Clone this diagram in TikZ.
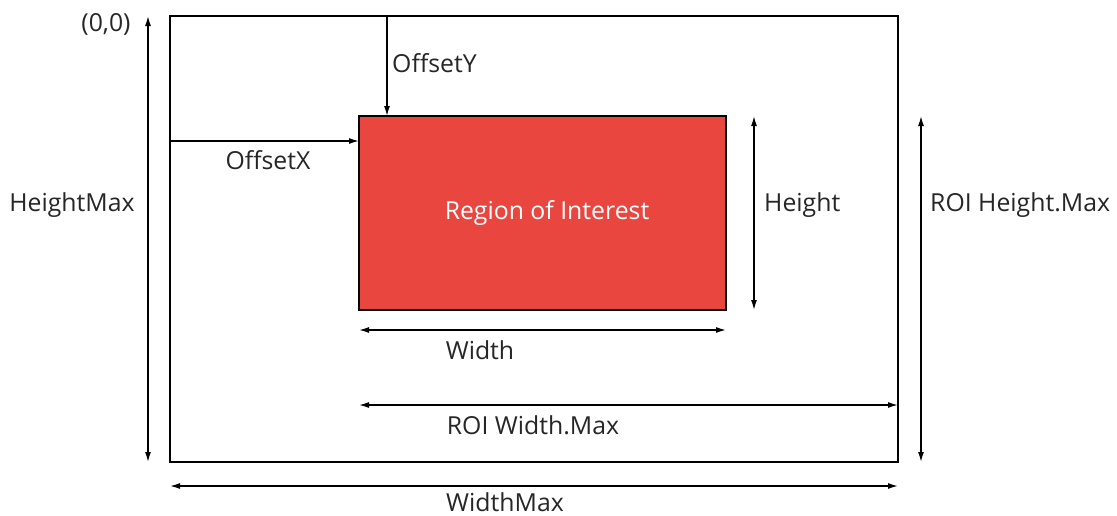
\documentclass[tikz,border=0pt]{standalone}
\usepackage{fontspec}
\setmainfont{Open Sans}
\usepackage{xcolor}
\usetikzlibrary{positioning,arrows.meta}
\definecolor{roired}{HTML}{E8463F}
\definecolor{labelgray}{HTML}{262626}

\tikzset{
  box/.style={draw, line width=2pt, inner sep=0pt, outer sep=0pt, anchor=north west},
  dim/.style={line width=1.4pt, {Latex[length=10pt,width=6pt]}-{Latex[length=10pt,width=6pt]}},
  offs/.style={line width=1.4pt, -{Latex[length=10pt,width=6pt]}},
  lbl/.style={text=labelgray, inner sep=0pt, font=\fontsize{24.8}{29}\selectfont}
}

\begin{document}
\begin{tikzpicture}[x=1pt,y=-1pt]
\useasboundingbox (0,0) rectangle (1117,515);
% frame and region
\node[box, minimum width=728pt, minimum height=446pt] (frame) at (170,16) {};
\node[box, fill=roired, minimum width=367pt, minimum height=194pt] (roi) at (359,116) {};
\node[lbl, text=white] (roitext) at (547,213) {Region of Interest};
% helper coordinates
\coordinate (oy) at (387,16);
\coordinate (ox) at (170,141);
\coordinate (hm) at (148,16);
\coordinate (h) at (754,0);
\coordinate (w) at (0,330);
\coordinate (rwm) at (0,405);
\coordinate (rhm) at (921,0);
\coordinate (wm) at (0,486);
% offsets
\draw[offs] (oy) -- (oy |- roi.north);
\draw[offs] (ox) -- (ox -| roi.west);
% dimensions
\draw[dim] (hm) -- (hm |- frame.south);
\draw[dim] (h |- roi.north) -- (h |- roi.south);
\draw[dim] (w -| roi.west) -- (w -| roi.east);
\draw[dim] (rwm -| roi.west) -- (rwm -| frame.east);
\draw[dim] (rhm |- roi.north) -- (rhm |- frame.south);
\draw[dim] (wm -| frame.west) -- (wm -| frame.east);
% labels
\node[lbl] (origin) at (106,24) {(0,0)};
\node[lbl] (hmlabel) at (72,205) {HeightMax};
\node[lbl, anchor=west] (oylabel) at (392,63) {OffsetY};
\node[lbl] (oxlabel) at (268,160) {OffsetX};
\node[lbl, anchor=west] (hlabel) at (764,205) {Height};
\node[lbl, anchor=west] (rhmlabel) at (930,205) {ROI Height.Max};
\node[lbl] (wlabel) at (480,350) {Width};
\node[lbl] (rwmlabel) at (533,425) {ROI Width.Max};
\node[lbl] (wmlabel) at (505,502) {WidthMax};
\end{tikzpicture}
\end{document}
